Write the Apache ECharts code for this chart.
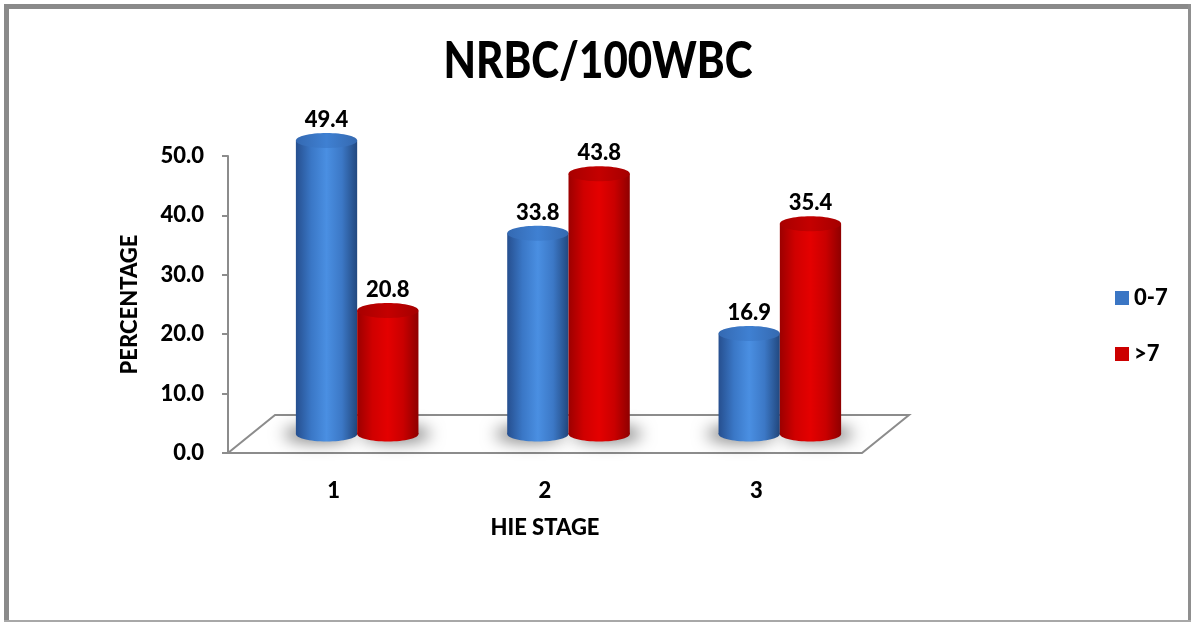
<!DOCTYPE html>
<html>
<head>
<meta charset="utf-8">
<title>NRBC/100WBC</title>
<script src="https://cdn.jsdelivr.net/npm/echarts@6/dist/echarts.min.js"></script>
<style>
  html, body { margin: 0; padding: 0; background: #ffffff; }
  #chart { width: 1192px; height: 623px; }
</style>
</head>
<body>
<div id="chart"></div>
<script>
// ---- data ----
const stages = ['1', '2', '3'];
const seriesNames = ['0-7', '>7'];
const valuesLow = [49.4, 33.8, 16.9];   // NRBC/100WBC 0-7
const valuesHigh = [20.8, 43.8, 35.4];  // NRBC/100WBC >7
const yMin = 0, yMax = 50, yStep = 10;

// ---- look ----
const FONT = 'Lato, "Open Sans", sans-serif';
const WEIGHT = 900;
const DEPTH_X = 47;      // horizontal offset of the floor's back edge
const DEPTH_Y = 38;      // vertical offset of the floor's back edge
const BAR_RATIO = 0.29;  // cylinder width as share of the category band
const CAP_RY = 7.5;      // half-height of the cylinder caps

const palettes = [
  {
    body: ['#264f8f', '#3a77c6', '#4a8fe2', '#3c78c6', '#22487f'],
    cap: ['#3469b2', '#3f80d2', '#3569b0'],
    legend: '#3b76c4'
  },
  {
    body: ['#9c0000', '#d00000', '#e40000', '#c90000', '#8e0000'],
    cap: ['#a80000', '#c40000', '#a40000'],
    legend: '#cc0000'
  }
];

function hGrad(colors) {
  const n = colors.length - 1;
  return {
    type: 'linear', x: 0, y: 0, x2: 1, y2: 0,
    colorStops: colors.map((c, i) => ({ offset: i / n, color: c }))
  };
}

function cylinderRenderer(slot) {
  const pal = palettes[slot];
  return function (params, api) {
    const cat = api.value(0);
    const val = api.value(1);
    const base = api.coord([cat, 0]);
    const top = api.coord([cat, val]);
    const band = api.size([1, 0])[0];
    const w = band * BAR_RATIO;
    const rx = w / 2;
    const cx = base[0] + (slot === 0 ? -w / 2 : w / 2) + DEPTH_X / 2;
    const yb = base[1] - DEPTH_Y / 2;
    const yt = top[1] - DEPTH_Y / 2;
    const side = slot === 0 ? -1 : 1;
    const far = 3000; // shape drawn off-canvas so only its soft shadow lands under the cylinder
    return {
      type: 'group',
      children: [
        {
          type: 'ellipse',
          shape: { cx: cx + side * 8 - far, cy: yb, rx: rx + 4, ry: CAP_RY + 1 },
          style: {
            fill: '#000', shadowBlur: 16, shadowOffsetX: far,
            shadowColor: 'rgba(0,0,0,0.5)'
          }
        },
        {
          type: 'rect',
          shape: { x: cx - rx, y: yt, width: w, height: yb - yt },
          style: { fill: hGrad(pal.body) }
        },
        {
          type: 'ellipse',
          shape: { cx: cx, cy: yb, rx: rx, ry: CAP_RY },
          style: { fill: hGrad(pal.body) }
        },
        {
          type: 'ellipse',
          shape: { cx: cx, cy: yt, rx: rx, ry: CAP_RY },
          style: { fill: hGrad(pal.cap) }
        },
        {
          type: 'text',
          style: {
            text: val.toFixed(1),
            x: cx, y: yt - CAP_RY - 2,
            align: 'center', verticalAlign: 'bottom',
            font: WEIGHT + ' 22px ' + FONT, fill: '#000000'
          }
        }
      ]
    };
  };
}

function floorRenderer(params, api) {
  const cs = params.coordSys;
  const x0 = cs.x, x1 = cs.x + cs.width, y0 = cs.y + cs.height;
  return {
    type: 'polygon',
    shape: {
      points: [
        [x0, y0], [x1, y0],
        [x1 + DEPTH_X, y0 - DEPTH_Y], [x0 + DEPTH_X, y0 - DEPTH_Y]
      ]
    },
    style: { fill: '#ffffff', stroke: '#8c8c8c', lineWidth: 2 }
  };
}

const chart = echarts.init(document.getElementById('chart'), null, { renderer: 'canvas' });

chart.setOption({
  backgroundColor: '#ffffff',
  animation: false,
  graphic: [
    { type: 'rect', shape: { x: 4, y: 4, width: 5, height: 618 }, style: { fill: '#8a8a8a' } },
    { type: 'rect', shape: { x: 4, y: 4, width: 1186, height: 5 }, style: { fill: '#8a8a8a' } },
    { type: 'rect', shape: { x: 1188, y: 4, width: 3, height: 618 }, style: { fill: '#8f8f8f' } },
    { type: 'rect', shape: { x: 4, y: 620, width: 1187, height: 2 }, style: { fill: '#a8a8a8' } },
    {
      type: 'text', x: 598, y: 61, scaleX: 0.81, scaleY: 1,
      style: {
        text: 'NRBC/100WBC', align: 'center', verticalAlign: 'middle',
        font: WEIGHT + ' 52px ' + FONT, fill: '#000000'
      }
    }
  ],
  legend: {
    orient: 'vertical',
    left: 1110, top: 282,
    itemWidth: 14, itemHeight: 14, itemGap: 34,
    icon: 'rect',
    data: seriesNames,
    textStyle: { fontFamily: FONT, fontWeight: WEIGHT, fontSize: 22, color: '#000' }
  },
  grid: { left: 228, right: 330, top: 156, bottom: 170, containLabel: false },
  xAxis: {
    type: 'category',
    data: stages,
    axisLine: { show: false },
    axisTick: { show: false },
    axisLabel: { margin: 27, fontFamily: FONT, fontWeight: WEIGHT, fontSize: 22, color: '#000' },
    name: 'HIE STAGE',
    nameLocation: 'middle',
    nameGap: 64,
    nameTextStyle: { fontFamily: FONT, fontWeight: WEIGHT, fontSize: 22, color: '#000' }
  },
  yAxis: {
    type: 'value',
    min: yMin, max: yMax, interval: yStep,
    axisLine: { show: true, lineStyle: { color: '#8c8c8c', width: 2 } },
    axisTick: { show: true, length: 6, lineStyle: { color: '#8c8c8c', width: 2 } },
    splitLine: { show: false },
    axisLabel: {
      margin: 24, fontFamily: FONT, fontWeight: WEIGHT, fontSize: 22, color: '#000',
      formatter: v => v.toFixed(1)
    },
    name: 'PERCENTAGE',
    nameLocation: 'middle',
    nameGap: 87,
    nameTextStyle: { fontFamily: FONT, fontWeight: WEIGHT, fontSize: 22, color: '#000' }
  },
  series: [
    {
      name: 'floor', type: 'custom', renderItem: floorRenderer,
      data: [[0, 0]], silent: true, z: 1
    },
    {
      name: seriesNames[0], type: 'custom', renderItem: cylinderRenderer(0),
      itemStyle: { color: palettes[0].legend },
      data: valuesLow.map((v, i) => [i, v]), z: 2
    },
    {
      name: seriesNames[1], type: 'custom', renderItem: cylinderRenderer(1),
      itemStyle: { color: palettes[1].legend },
      data: valuesHigh.map((v, i) => [i, v]), z: 3
    }
  ]
});
</script>
</body>
</html>
